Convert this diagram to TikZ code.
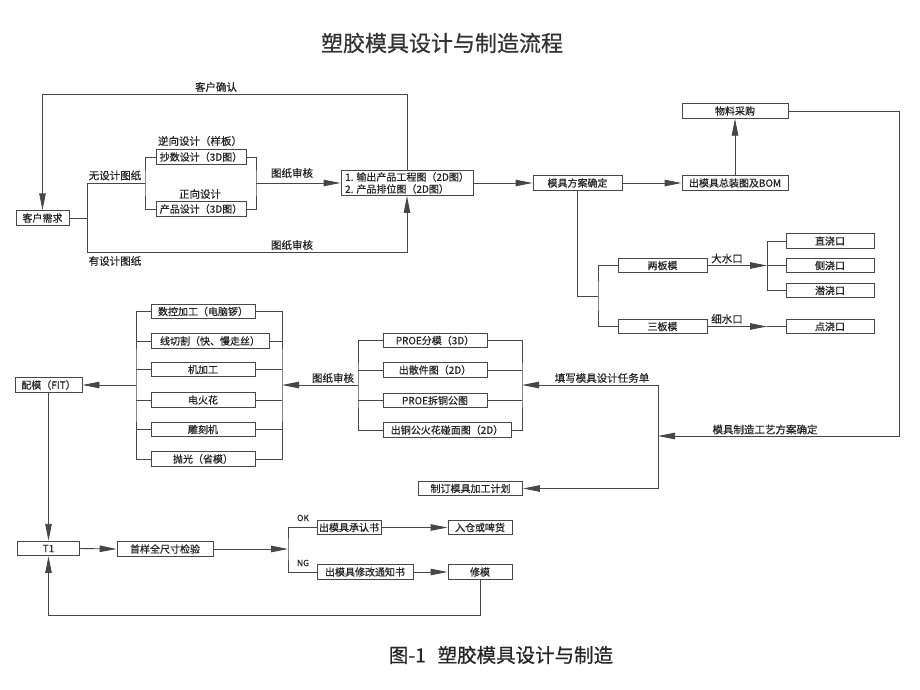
\documentclass[tikz,border=0pt]{standalone}
\usepackage{fontspec}
\setmainfont{Noto Sans CJK SC}[AutoFakeBold=0.6]
\usetikzlibrary{arrows.meta}
\begin{document}
\begin{tikzpicture}[x=1pt,y=-1pt,
  ln/.style={draw=black!72,line width=0.9pt},
  arr/.style={ln,-{Triangle[length=17pt,width=6.5pt]}},
  box/.style={draw=black!72,line width=0.9pt,minimum height=14.5pt,inner sep=0.5pt,text=black!85,font=\fontsize{10}{12}\selectfont\bfseries},
  lbl/.style={text=black!85,inner sep=0pt,font=\fontsize{10.5}{12}\selectfont\bfseries}]
\useasboundingbox[fill=white] (0,0) rectangle (920,690);
% title and caption
\node[text=black!80,font=\fontsize{22}{26}\selectfont\bfseries] (title) at (442,43) {塑胶模具设计与制造流程};
\node[text=black!85,font=\fontsize{19.5}{24}\selectfont\bfseries] (cap) at (501,655) {图-1\hspace{0.6em}塑胶模具设计与制造};
% top section
\node[box,minimum width=53] (kh) at (42.5,218) {客户需求};
\node[box,minimum width=90] (cs) at (201,157) {抄数设计（3D图）};
\node[box,minimum width=90] (cp) at (201,209) {产品设计（3D图）};
\node[box,minimum width=132,minimum height=25,align=left,anchor=center] (sc) at (407,183) {1. 输出产品工程图（2D图）\\2. 产品排位图（2D图）};
\node[box,minimum width=89] (fa) at (577.5,183) {模具方案确定};
\node[box,minimum width=106] (bom) at (735,183) {出模具总装图及BOM};
\node[box,minimum width=106] (wl) at (735,111) {物料采购};
\node[box,minimum width=89] (lb) at (662.5,265.5) {两板模};
\node[box,minimum width=89] (sb) at (662.5,326.5) {三板模};
\node[box,minimum width=88] (zj) at (830,241) {直浇口};
\node[box,minimum width=88] (cj) at (830,265.5) {侧浇口};
\node[box,minimum width=88] (qj) at (830,290.5) {潜浇口};
\node[box,minimum width=88] (dj) at (830,326.5) {点浇口};
% middle section
\node[box,minimum width=104] (p1) at (435,340.5) {PROE分模（3D）};
\node[box,minimum width=104] (p2) at (435,370) {出散件图（2D）};
\node[box,minimum width=104] (p3) at (435,400.5) {PROE拆铜公图};
\node[box,minimum width=128] (p4) at (447,430) {出铜公火花碰面图（2D）};
\node[box,minimum width=104] (m1) at (203,311.5) {数控加工（电脑锣）};
\node[box,minimum width=118] (m2) at (210,341) {线切割（快、慢走丝）};
\node[box,minimum width=104] (m3) at (203,369.5) {机加工};
\node[box,minimum width=104] (m4) at (203,400) {电火花};
\node[box,minimum width=104] (m5) at (203,429.5) {雕刻机};
\node[box,minimum width=104] (m6) at (203,459) {抛光（省模）};
\node[box,minimum width=67] (pm) at (48.5,385) {配模（FIT）};
\node[box,minimum width=104] (jh) at (470.5,488.5) {制订模具加工计划};
% bottom section
\node[box,minimum width=62] (t1) at (48.5,548.5) {T1};
\node[box,minimum width=96] (sy) at (165,549) {首样全尺寸检验};
\node[box,minimum width=64] (ok) at (349,527.5) {出模具承认书};
\node[box,minimum width=64] (rk) at (480,527.5) {入仓或啤货};
\node[box,minimum width=96] (ng) at (365,572) {出模具修改通知书};
\node[box,minimum width=64] (xm) at (480,572) {修模};
% coordinates
\coordinate (jA) at (87,183);
\coordinate (jB) at (87,252);
\coordinate (jL) at (145,183);
\coordinate (jR) at (256,183);
\coordinate (top) at (42.5,94);
\coordinate (rc) at (899,436);
\coordinate (jT) at (658,436);
\coordinate (jT1) at (658,385);
\coordinate (jT2) at (658,488.5);
\coordinate (jM) at (598,296);
\coordinate (jD) at (767,265.5);
\coordinate (jX) at (767,326.5);
\coordinate (pL) at (358,385);
\coordinate (pR) at (522,385);
\coordinate (mL) at (136,385);
\coordinate (mR) at (282,385);
\coordinate (jO) at (288,549);
\coordinate (bl) at (48.5,615);
% connectors top
\draw[ln] (kh.east) -- (kh.east -| jA);
\draw[ln] (jA) -- (jB);
\draw[ln] (jA) -- (jL);
\draw[ln] (cs.west) -| (jL) |- (cp.west);
\draw[ln] (cs.east) -| (jR) |- (cp.east);
\draw[arr] (jR) -- (sc.west);
\draw[arr] (jB) -| (sc.south);
\draw[arr] (sc.north) |- (top) -- (kh.north);
\draw[arr] (sc.east) -- (fa.west);
\draw[arr] (fa.east) -- (bom.west);
\draw[arr] (bom.north) -- (wl.south);
\draw[arr] (wl.east) -| (rc) -- (jT);
\draw[ln] (jT1) -- (jT2);
\draw[arr] (jT1) -- (pR);
\draw[arr] (jT2) -- (jh.east);
\draw[ln] (fa.south) |- (jM);
\draw[ln] (lb.west) -| (jM) |- (sb.west);
\draw[arr] (lb.east) -- (jD);
\draw[ln] (zj.west) -| (jD) |- (qj.west);
\draw[ln] (jD) -- (cj.west);
\draw[arr] (sb.east) -- (jX);
\draw[ln] (jX) -- (dj.west);
% middle connectors
\draw[ln] (p1.east) -| (pR) |- (p4.east);
\draw[ln] (p2.east) -- (p2.east -| pR);
\draw[ln] (p3.east) -- (p3.east -| pR);
\draw[ln] (p1.west) -| (pL) |- (p4.west);
\draw[ln] (p2.west) -- (p2.west -| pL);
\draw[ln] (p3.west) -- (p3.west -| pL);
\draw[arr] (pL) -- (mR);
\draw[ln] (m1.east) -| (mR) |- (m6.east);
\draw[ln] (m2.east) -- (m2.east -| mR);
\draw[ln] (m3.east) -- (m3.east -| mR);
\draw[ln] (m4.east) -- (m4.east -| mR);
\draw[ln] (m5.east) -- (m5.east -| mR);
\draw[ln] (m1.west) -| (mL) |- (m6.west);
\draw[ln] (m2.west) -- (m2.west -| mL);
\draw[ln] (m3.west) -- (m3.west -| mL);
\draw[ln] (m4.west) -- (m4.west -| mL);
\draw[ln] (m5.west) -- (m5.west -| mL);
\draw[arr] (mL) -- (pm.east);
\draw[arr] (pm.south) -- (t1.north);
% bottom connectors
\draw[arr] (t1.east) -- (sy.west);
\draw[arr] (sy.east) -- (jO);
\draw[ln] (ok.west) -| (jO) |- (ng.west);
\draw[arr] (ok.east) -- (rk.west);
\draw[arr] (ng.east) -- (xm.west);
\draw[arr] (xm.south) |- (bl) -- (t1.south);
% labels
\node[lbl] (l1) at (216,87) {客户确认};
\node[lbl] (l2) at (200,141) {逆向设计（样板）};
\node[lbl] (l3) at (200,194) {正向设计};
\node[lbl] (l4) at (115,175.5) {无设计图纸};
\node[lbl] (l5) at (115,261) {有设计图纸};
\node[lbl] (l6) at (292,173) {图纸审核};
\node[lbl] (l7) at (292,245) {图纸审核};
\node[lbl] (l8) at (727,258.5) {大水口};
\node[lbl] (l9) at (727,319) {细水口};
\node[lbl] (l10) at (602,378) {填写模具设计任务单};
\node[lbl] (l11) at (333,378) {图纸审核};
\node[lbl] (l12) at (765,429.5) {模具制造工艺方案确定};
\node[lbl,font=\fontsize{8.5}{10}\selectfont\bfseries] (l13) at (303,518) {OK};
\node[lbl,font=\fontsize{8.5}{10}\selectfont\bfseries] (l14) at (303,563) {NG};
\end{tikzpicture}
\end{document}
